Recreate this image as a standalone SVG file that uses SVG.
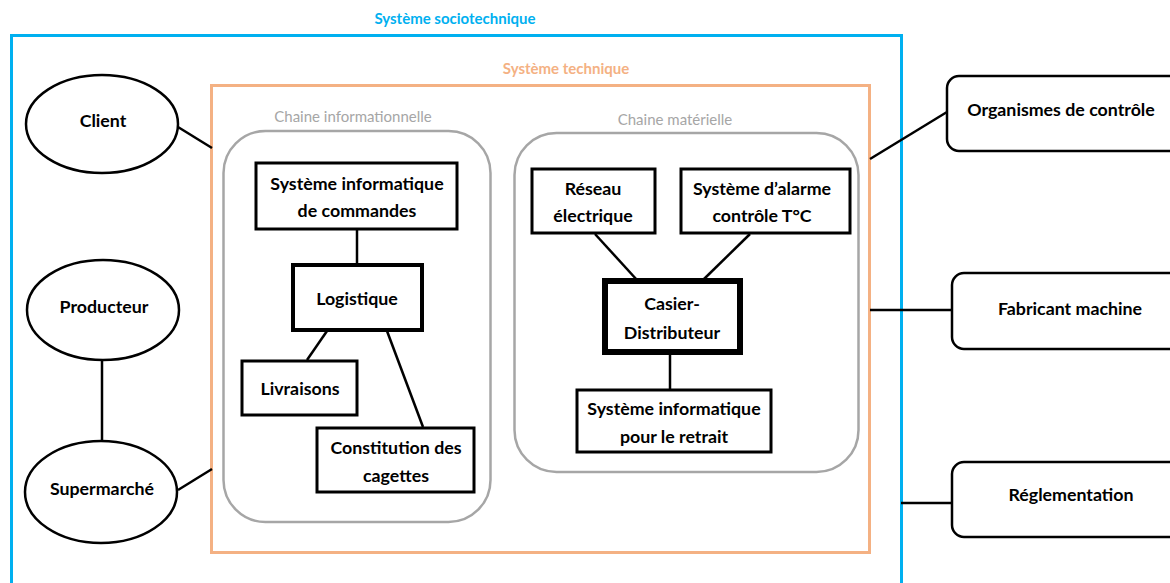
<svg xmlns="http://www.w3.org/2000/svg" width="1170" height="583" viewBox="0 0 1170 583">
<style>
text{font-family:Lato,"Liberation Sans",sans-serif;text-anchor:middle;dominant-baseline:central}
.n{font-weight:bold;font-size:17.8px;fill:#000}
.g{font-size:15px;fill:#A6A6A6}
.box{fill:#fff;stroke:#000;stroke-width:3}
.ell{fill:#fff;stroke:#000;stroke-width:2.5}
.ext{fill:#fff;stroke:#000;stroke-width:2.5}
.c line{stroke:#000;stroke-width:2.5}
</style>
<rect width="1170" height="583" fill="#fff"/>
<g id="sociotechnique">
<rect x="11.5" y="35.5" width="890" height="560" fill="none" stroke="#00B0F0" stroke-width="3"/>
<text x="455" y="18" style="font-weight:bold;font-size:15px;fill:#00B0F0">Système sociotechnique</text>
</g>
<g id="technique">
<rect x="211.5" y="85.5" width="658" height="467" fill="none" stroke="#F4B183" stroke-width="3"/>
<text x="566" y="68" style="font-weight:bold;font-size:15px;fill:#F4B183">Système technique</text>
</g>
<g id="chaine-info">
<rect x="223.5" y="131" width="267" height="391" rx="42" fill="none" stroke="#A6A6A6" stroke-width="2.5"/>
<text class="g" x="353" y="116">Chaine informationnelle</text>
</g>
<g id="chaine-mat">
<rect x="514.5" y="133" width="344" height="339" rx="42" fill="none" stroke="#A6A6A6" stroke-width="2.5"/>
<text class="g" x="675" y="119">Chaine matérielle</text>
</g>
<g class="c" id="connectors">
<line x1="178" y1="127" x2="212" y2="148"/>
<line x1="102" y1="361" x2="102" y2="443"/>
<line x1="178" y1="490" x2="212" y2="469"/>
<line x1="947" y1="112" x2="870" y2="159"/>
<line x1="870" y1="310" x2="952" y2="310"/>
<line x1="901" y1="503" x2="952" y2="503"/>
<line x1="357" y1="230" x2="357" y2="264"/>
<line x1="327" y1="331" x2="307" y2="360"/>
<line x1="387" y1="331" x2="423" y2="427"/>
<line x1="595" y1="234" x2="637" y2="280"/>
<line x1="750" y1="234" x2="703" y2="280"/>
<line x1="670" y1="355" x2="670" y2="389"/>
</g>
<g id="client"><ellipse class="ell" cx="102" cy="124" rx="76" ry="49"/><text class="n" x="103" y="120">Client</text></g>
<g id="producteur"><ellipse class="ell" cx="103" cy="310" rx="76" ry="50"/><text class="n" x="104" y="306">Producteur</text></g>
<g id="supermarche"><ellipse class="ell" cx="101" cy="492" rx="76" ry="51"/><text class="n" x="102" y="488">Supermarché</text></g>
<g id="organismes"><rect class="ext" x="947" y="76" width="240" height="75" rx="12"/><text class="n" x="1061" y="109">Organismes de contrôle</text></g>
<g id="fabricant"><rect class="ext" x="952" y="273" width="240" height="76" rx="12"/><text class="n" x="1070" y="308">Fabricant machine</text></g>
<g id="reglementation"><rect class="ext" x="952" y="462" width="240" height="75" rx="12"/><text class="n" x="1071" y="494">Réglementation</text></g>
<g id="sys-commandes"><rect class="box" x="256" y="163" width="201" height="66"/><text class="n" x="357" y="183">Système informatique</text><text class="n" x="357" y="210">de commandes</text></g>
<g id="logistique"><rect class="box" x="293" y="265" width="129" height="65" style="stroke-width:4"/><text class="n" x="357" y="298">Logistique</text></g>
<g id="livraisons"><rect class="box" x="242" y="361" width="115" height="54"/><text class="n" x="300" y="388">Livraisons</text></g>
<g id="cagettes"><rect class="box" x="317" y="428" width="157" height="64"/><text class="n" x="396" y="447">Constitution des</text><text class="n" x="396" y="475">cagettes</text></g>
<g id="reseau"><rect class="box" x="532" y="169" width="123" height="64"/><text class="n" x="593" y="188">Réseau</text><text class="n" x="593" y="215">électrique</text></g>
<g id="alarme"><rect class="box" x="681" y="169" width="169" height="64"/><text class="n" x="762" y="188">Système d’alarme</text><text class="n" x="762" y="215">contrôle T°C</text></g>
<g id="casier"><rect class="box" x="605" y="281" width="135" height="71" style="stroke-width:6"/><text class="n" x="672" y="303">Casier-</text><text class="n" x="672" y="332">Distributeur</text></g>
<g id="sys-retrait"><rect class="box" x="577" y="390" width="194" height="62"/><text class="n" x="674" y="408">Système informatique</text><text class="n" x="674" y="436">pour le retrait</text></g>
</svg>
